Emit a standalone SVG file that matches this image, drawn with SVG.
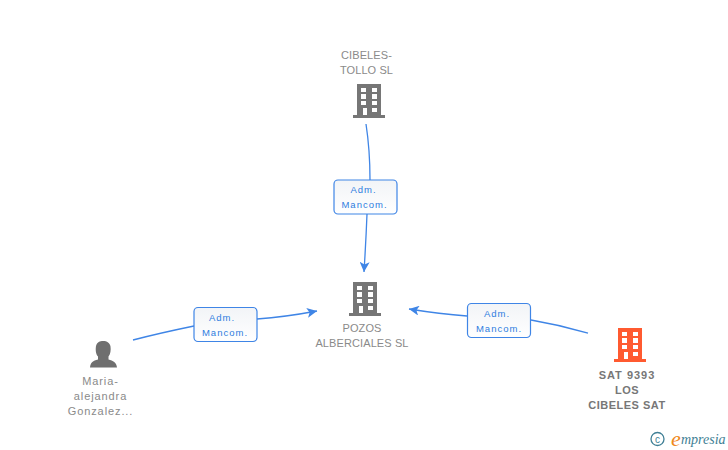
<svg xmlns="http://www.w3.org/2000/svg" width="728" height="450" viewBox="0 0 728 450">
<defs>
<linearGradient id="g" x1="0" y1="0" x2="0" y2="1"><stop offset="0" stop-color="#f2f4f7"/><stop offset="1" stop-color="#ffffff"/></linearGradient>
<marker id="a" viewBox="0 0 10 10" refX="10" refY="5" markerWidth="10" markerHeight="10" markerUnits="userSpaceOnUse" orient="auto"><path d="M0 0L10 5L0 10L2.5 5Z" fill="#3f85e6"/></marker>
<g id="bld"><path d="M-12 -17H12V14H-12Z M-8 -13V-9H-3V-13Z M3 -13V-9H8V-13Z M-8 -7V-2H-3V-7Z M3 -7V-2H8V-7Z M-8 0V4H-3V0Z M3 0V4H8V0Z M-6 7V14H-2V7Z M3 7V11H8V7Z" fill-rule="evenodd"/><rect x="-16" y="14" width="32" height="3"/></g>
</defs>
<style>
.n{font-family:"Liberation Sans",Arial,sans-serif;font-size:11px;fill:#8a8a8a;text-anchor:middle;letter-spacing:.1px}
.p{letter-spacing:.9px}
.b{font-weight:bold;fill:#777;letter-spacing:.5px}
.l{font-family:"Liberation Sans",Arial,sans-serif;font-size:9.500px;fill:#2f7de0;text-anchor:middle;letter-spacing:1px}
.c{fill:none;stroke:#3f85e6;stroke-width:1.300}
.box{fill:url(#g);stroke:#3f85e6;stroke-width:1.200}
</style>
<g id="connectors">
<path class="c" d="M366 124Q370 150 370 180"/>
<path class="c" d="M367 214Q366 240 364 272" marker-end="url(#a)"/>
<path class="c" d="M133 340Q160 333 194 326"/>
<path class="c" d="M257 319Q285 317 317 311" marker-end="url(#a)"/>
<path class="c" d="M467 316Q440 314 409 309" marker-end="url(#a)"/>
<path class="c" d="M531 320Q560 325 588 333"/>
</g>
<g id="label-top"><rect class="box" x="334" y="180" width="63" height="34" rx="4"/><text class="l" x="363.500" y="193">Adm.</text><text class="l" x="364.500" y="208">Mancom.</text></g>
<g id="label-left"><rect class="box" x="194" y="307.500" width="63" height="34" rx="4"/><text class="l" x="222" y="321">Adm.</text><text class="l" x="225" y="336">Mancom.</text></g>
<g id="label-right"><rect class="box" x="467.500" y="303.500" width="63" height="34" rx="4"/><text class="l" x="497" y="317">Adm.</text><text class="l" x="499" y="332">Mancom.</text></g>
<g id="node-cibeles">
<use href="#bld" x="369" y="101" fill="#767676"/>
<text class="n" x="366.500" y="59">CIBELES-</text><text class="n" x="366.500" y="74">TOLLO SL</text>
</g>
<g id="node-pozos">
<use href="#bld" x="365" y="299" fill="#767676"/>
<text class="n" x="362" y="332">POZOS</text><text class="n" x="362" y="347">ALBERCIALES SL</text>
</g>
<g id="node-maria">
<path d="M90 367.500C90.500 362 93 361 98 359.500V356.500C95.500 354 95.500 349 96 346C97 342 100 341 103 341C107 341 110 343 110.500 346.500C111 350 110.500 354 108.500 356.500V359.500C113 361 116.500 362 117 367.500Z" fill="#6f6f6f"/>
<text class="n p" x="100.500" y="385">Maria-</text><text class="n p" x="100.500" y="400">alejandra</text><text class="n p" x="100.500" y="415">Gonzalez...</text>
</g>
<g id="node-sat">
<use href="#bld" x="630" y="345" fill="#ff5a30"/>
<text class="n b" x="627" y="379" style="letter-spacing:1px">SAT 9393</text><text class="n b" x="627" y="394">LOS</text><text class="n b" x="627" y="409">CIBELES SAT</text>
</g>
<g id="watermark">
<circle cx="657.500" cy="439" r="6.500" fill="none" stroke="#3f7f95" stroke-width="1.300"/>
<text x="657.500" y="442.500" font-family="Liberation Sans,sans-serif" font-size="10" fill="#3f7f95" text-anchor="middle">c</text>
<text x="671" y="446" font-family="Liberation Serif,serif" font-style="italic" font-size="22" fill="#f08a1d">e</text>
<text x="681" y="444" font-family="Liberation Serif,serif" font-style="italic" font-size="14" fill="#3f7f95">mpresia</text>
</g>
</svg>
